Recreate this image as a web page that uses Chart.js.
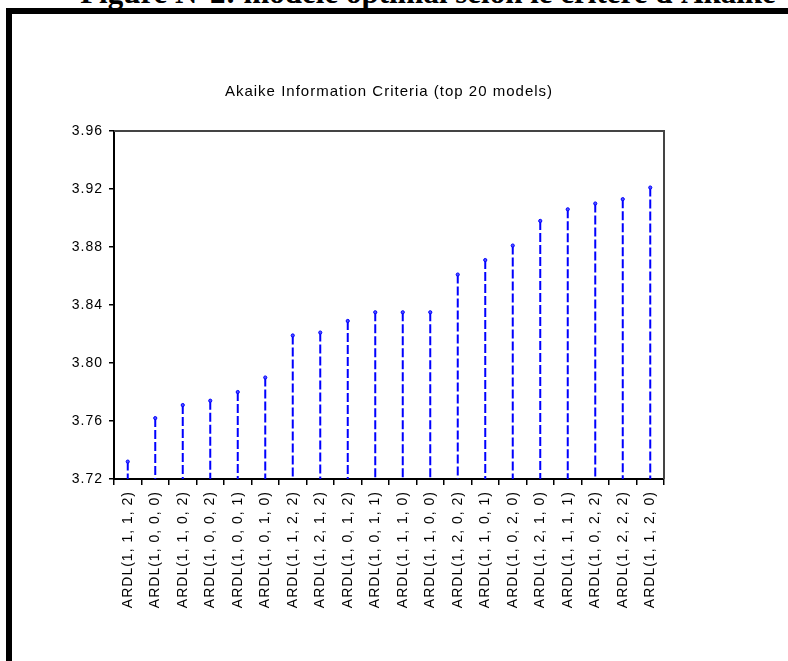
<!DOCTYPE html>
<html><head><meta charset="utf-8">
<script src="https://cdn.jsdelivr.net/npm/chart.js@4.4.0/dist/chart.umd.min.js"></script>
<style>
html,body{margin:0;padding:0;background:#fff;width:788px;height:661px;overflow:hidden;}
#fig{position:absolute;left:0;width:788px;top:-23px;padding-left:68px;box-sizing:border-box;text-align:center;font:bold 31px "Liberation Serif","Times New Roman",serif;color:#000;white-space:nowrap;line-height:31px;}
#frame{position:absolute;left:6px;top:8px;width:900px;height:800px;border-left:6px solid #000;border-top:6px solid #000;}
#c{position:absolute;left:0;top:0;}
</style></head><body>
<div id="fig">Figure N°2: modèle optimal selon le critère d'Akaike</div>
<div id="frame"></div>
<canvas id="c" width="788" height="661"></canvas>
<script>
const chartTitle = 'Akaike Information Criteria (top 20 models)';
const models = [
  'ARDL(1, 1, 1, 2)','ARDL(1, 0, 0, 0)','ARDL(1, 1, 0, 2)','ARDL(1, 0, 0, 2)','ARDL(1, 0, 0, 1)',
  'ARDL(1, 0, 1, 0)','ARDL(1, 1, 2, 2)','ARDL(1, 2, 1, 2)','ARDL(1, 0, 1, 2)','ARDL(1, 0, 1, 1)',
  'ARDL(1, 1, 1, 0)','ARDL(1, 1, 0, 0)','ARDL(1, 2, 0, 2)','ARDL(1, 1, 0, 1)','ARDL(1, 0, 2, 0)',
  'ARDL(1, 2, 1, 0)','ARDL(1, 1, 1, 1)','ARDL(1, 0, 2, 2)','ARDL(1, 2, 2, 2)','ARDL(1, 1, 2, 0)'
];
const aic = [
  3.732, 3.762, 3.771, 3.774, 3.780,
  3.790, 3.819, 3.821, 3.829, 3.835,
  3.835, 3.835, 3.861, 3.871, 3.881,
  3.898, 3.906, 3.910, 3.913, 3.921
];
const yTicks = [3.72, 3.76, 3.80, 3.84, 3.88, 3.92, 3.96];

const stemPoints = [];
models.forEach((m, i) => {
  stemPoints.push({x: m, y: aic[i]}, {x: m, y: yTicks[0]}, {x: m, y: null});
});

const FONT = '"Liberation Sans", Arial, sans-serif';
const setSpacing = c => { try { c.ctx.letterSpacing = '1px'; } catch(e){} };
const spacingPlugin = {
  id: 'spacing',
  beforeInit: setSpacing, beforeUpdate: setSpacing, beforeLayout: setSpacing,
  beforeDraw: setSpacing, afterLayout: setSpacing
};
const boxPlugin = {
  id: 'box',
  afterDraw(c) {
    const a = c.chartArea, ctx = c.ctx;
    ctx.save();
    ctx.strokeStyle = '#444';
    ctx.lineWidth = 2;
    ctx.beginPath();
    ctx.moveTo(a.left, a.top);
    ctx.lineTo(a.right, a.top);
    ctx.lineTo(a.right, a.bottom);
    ctx.stroke();
    ctx.restore();
  }
};

new Chart(document.getElementById('c'), {
  type: 'line',
  data: {
    datasets: [{
      data: stemPoints,
      borderColor: '#0000ff',
      borderWidth: 2,
      borderDash: [9, 3],
      spanGaps: false,
      fill: false,
      tension: 0,
      pointRadius: ctx => (ctx.dataIndex % 3 === 0 ? 1.6 : 0),
      pointBackgroundColor: '#5050ff',
      pointBorderColor: '#0000ff',
      pointBorderWidth: 1,
      pointHoverRadius: 0
    }]
  },
  options: {
    responsive: false,
    animation: false,
    devicePixelRatio: 1,
    layout: {padding: {top: 83, right: 124, bottom: 0, left: 0}},
    plugins: {
      legend: {display: false},
      tooltip: {enabled: false},
      title: {
        display: true, text: chartTitle, color: '#000', fullSize: false,
        font: {family: FONT, size: 15, weight: 'normal'},
        padding: {top: 0, bottom: 30}
      }
    },
    scales: {
      x: {
        type: 'category', labels: models, offset: true,
        grid: {offset: true, drawOnChartArea: false, drawTicks: true, tickLength: 6, color: '#000', lineWidth: 1.5},
        border: {color: '#000', width: 2},
        ticks: {minRotation: 90, maxRotation: 90, autoSkip: false, padding: 6, color: '#000',
                font: {family: FONT, size: 14}},
        afterFit(s) { s.height = 182; }
      },
      y: {
        min: yTicks[0], max: yTicks[yTicks.length - 1],
        afterBuildTicks(s) { s.ticks = yTicks.map(v => ({value: v})); },
        grid: {drawOnChartArea: false, drawTicks: true, tickLength: 5, color: '#000', lineWidth: 1.5},
        border: {color: '#000', width: 2},
        ticks: {padding: 6, color: '#000', font: {family: FONT, size: 14},
                callback: v => Number(v).toFixed(2)},
        afterFit(s) { s.width = 114; }
      }
    }
  },
  plugins: [spacingPlugin, boxPlugin]
});
</script>
</body></html>
